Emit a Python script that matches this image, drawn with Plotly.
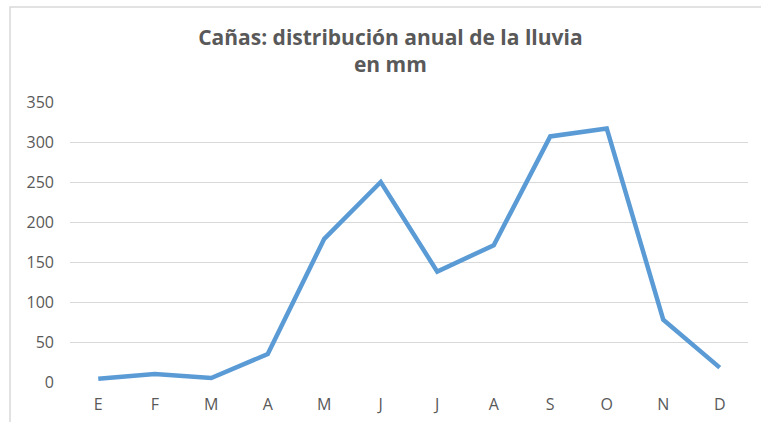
import plotly.graph_objects as go

months = ["E", "F", "M", "A", "M", "J", "J", "A", "S", "O", "N", "D"]
rain_mm = [4, 10, 5, 35, 179, 250, 138, 171, 307, 317, 78, 18]
y_ticks = [0, 50, 100, 150, 200, 250, 300, 350]

x_idx = list(range(len(months)))

fig = go.Figure()
fig.add_trace(go.Scatter(
    x=x_idx, y=rain_mm, mode="lines",
    line=dict(color="#5B9BD5", width=4.5, shape="linear"),
    hoverinfo="skip", showlegend=False,
))

W, H = 761, 422
l, r, t, b = 70, 13, 102, 40
pw, ph = W - l - r, H - t - b

fig.update_layout(
    width=W, height=H,
    margin=dict(l=l, r=r, t=t, b=b),
    paper_bgcolor="white", plot_bgcolor="white",
    font=dict(family="Open Sans, Liberation Sans, sans-serif", color="#595959", size=16),
    title=dict(
        text="<b>Cañas: distribución anual de la lluvia<br>en mm</b>",
        x=0.513, xanchor="center", y=1 - 45 / H, yanchor="middle",
        font=dict(size=21, color="#595959"),
    ),
    xaxis=dict(
        tickmode="array", tickvals=x_idx, ticktext=months,
        range=[-0.5, len(months) - 0.5],
        showgrid=False, zeroline=False, showline=False, ticks="",
        tickfont=dict(size=16, color="#595959"), ticklabelstandoff=11,
        automargin=False,
    ),
    yaxis=dict(
        range=[0, 350], tickmode="array", tickvals=y_ticks,
        showgrid=True, gridcolor="#D9D9D9", gridwidth=1.3,
        zeroline=False, showline=False, ticks="",
        tickfont=dict(size=16, color="#595959"), ticklabelstandoff=15,
        automargin=False,
    ),
    shapes=[dict(
        type="rect", xref="paper", yref="paper",
        x0=(10 - l) / pw, x1=1.2, y0=-0.5, y1=1 + (t - 7) / ph,
        line=dict(color="#D9D9D9", width=1.5), fillcolor="rgba(0,0,0,0)", layer="below",
    )],
)

fig.write_html(
    "out.html",
    config={"displayModeBar": False},
    post_script="document.body.style.margin='0';document.body.style.overflow='hidden';",
)
